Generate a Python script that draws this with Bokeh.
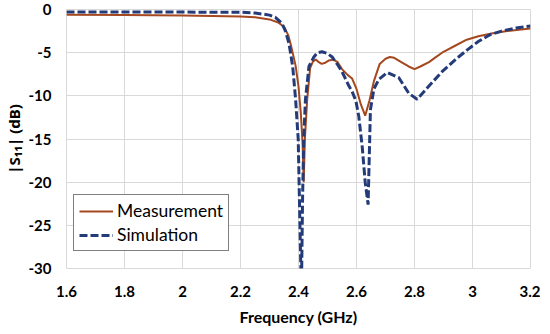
from bokeh.plotting import figure
from bokeh.embed import file_html
from bokeh.resources import INLINE
from bokeh.models import FixedTicker, CustomJSTickFormatter, Legend, LegendItem, Range1d

# Measurement (frequency GHz, |S11| dB)
meas_f = [1.60, 1.80, 2.00, 2.20, 2.25, 2.30, 2.33, 2.35, 2.365, 2.375, 2.39, 2.40, 2.408,
          2.414, 2.418, 2.422, 2.43, 2.44, 2.45, 2.46, 2.47, 2.48, 2.49, 2.505, 2.52, 2.535,
          2.55, 2.57, 2.585, 2.60, 2.615, 2.63, 2.645, 2.66, 2.68, 2.70, 2.715, 2.73, 2.75,
          2.78, 2.80, 2.82, 2.85, 2.87, 2.90, 2.94, 2.98, 3.02, 3.07, 3.12, 3.16, 3.20]
meas_db = [-0.6, -0.65, -0.7, -0.8, -0.9, -1.15, -1.5, -2.0, -3.0, -4.3, -6.5, -8.9, -12.0,
           -15.5, -20.0, -15.0, -10.4, -6.8, -6.0, -5.8, -6.1, -6.3, -6.2, -5.9, -5.8, -6.1,
           -6.9, -7.6, -8.0, -9.2, -11.0, -12.3, -10.5, -8.3, -6.3, -5.7, -5.5, -5.6, -6.0,
           -6.6, -6.9, -6.6, -6.1, -5.6, -4.9, -4.2, -3.5, -3.1, -2.75, -2.5, -2.35, -2.2]

# Simulation (frequency GHz, |S11| dB)
sim_f = [1.60, 1.80, 2.00, 2.20, 2.25, 2.30, 2.32, 2.343, 2.355, 2.367, 2.38, 2.39, 2.399,
         2.405, 2.41, 2.414, 2.418, 2.424, 2.436, 2.453, 2.465, 2.481, 2.50, 2.516, 2.535,
         2.55, 2.573, 2.585, 2.598, 2.608, 2.62, 2.63, 2.64, 2.648, 2.66, 2.677, 2.706,
         2.746, 2.78, 2.809, 2.849, 2.895, 2.941, 2.981, 3.02, 3.062, 3.10, 3.15, 3.20]
sim_db = [-0.3, -0.3, -0.3, -0.32, -0.4, -0.65, -0.9, -1.6, -2.5, -3.9, -6.6, -10.4, -15.0,
          -25.0, -33.0, -22.0, -15.0, -10.4, -6.6, -5.5, -5.0, -4.9, -5.1, -5.5, -6.4,
          -7.2, -8.8, -9.5, -10.6, -12.4, -16.0, -20.0, -22.6, -11.6, -9.2, -8.1, -7.3,
          -7.9, -9.7, -10.4, -8.9, -7.2, -5.8, -4.7, -3.7, -2.9, -2.5, -2.15, -1.9]

x_ticks = [1.6, 1.8, 2.0, 2.2, 2.4, 2.6, 2.8, 3.0, 3.2]
y_ticks = [0, -5, -10, -15, -20, -25, -30]

FONT = "Lato"
GRID = "#D9D9D9"

p = figure(frame_width=464, frame_height=259, output_backend="svg", toolbar_location=None,
           x_range=Range1d(1.6, 3.2), y_range=Range1d(-30, 0),
           min_border_left=61, min_border_right=10, min_border_top=9, min_border_bottom=0)

p.outline_line_color = GRID
p.outline_line_width = 1

for ax in (p.xaxis[0], p.yaxis[0]):
    ax.axis_line_color = None
    ax.major_tick_line_color = None
    ax.minor_tick_line_color = None
    ax.major_tick_in = 0
    ax.major_tick_out = 0
    ax.minor_tick_in = 0
    ax.minor_tick_out = 0
    ax.major_label_text_font = FONT
    ax.major_label_text_font_style = "bold"
    ax.major_label_text_font_size = "15px"
    ax.major_label_text_color = "#000000"
    ax.axis_label_text_font = FONT
    ax.axis_label_text_font_style = "bold"
    ax.axis_label_text_font_size = "16px"
    ax.axis_label_text_color = "#000000"

p.xaxis.ticker = FixedTicker(ticks=x_ticks)
p.yaxis.ticker = FixedTicker(ticks=y_ticks)
p.xaxis.formatter = CustomJSTickFormatter(code="return tick.toFixed(1).replace(/\\.0$/, '');")
p.yaxis.formatter = CustomJSTickFormatter(code="return tick.toFixed(0);")
p.xaxis.major_label_standoff = 17
p.yaxis.major_label_standoff = 15
p.xaxis.axis_label = "Frequency (GHz)"
p.yaxis.axis_label = "|S\u2081\u2081| (dB)"
p.yaxis.axis_label_text_font = "Noto Sans"
p.yaxis.axis_label_text_font_size = "15px"
p.xaxis.axis_label_standoff = 7
p.yaxis.axis_label_standoff = 2

p.xgrid.ticker = FixedTicker(ticks=x_ticks)
p.ygrid.ticker = FixedTicker(ticks=y_ticks)
p.xgrid.grid_line_color = GRID
p.ygrid.grid_line_color = GRID
p.xgrid.grid_line_width = 1
p.ygrid.grid_line_width = 1

r_meas = p.line(meas_f, meas_db, line_color="#A5481F", line_width=2)
r_sim = p.line(sim_f, sim_db, line_color="#243B7A", line_width=3, line_dash="8 3")

legend = Legend(items=[LegendItem(label="Measurement", renderers=[r_meas]),
                       LegendItem(label="Simulation", renderers=[r_sim])],
                location=(7, 17))
legend.border_line_color = "#000000"
legend.border_line_width = 1
legend.background_fill_color = "#FFFFFF"
legend.background_fill_alpha = 1
legend.label_text_font = FONT
legend.label_text_font_size = "17.5px"
legend.label_text_color = "#000000"
legend.glyph_width = 34
legend.glyph_height = 18
legend.label_height = 18
legend.spacing = 3
legend.padding = 5
legend.margin = 0
legend.label_standoff = 4
p.add_layout(legend, "center")

open("out.html", "w").write(file_html(p, INLINE))
